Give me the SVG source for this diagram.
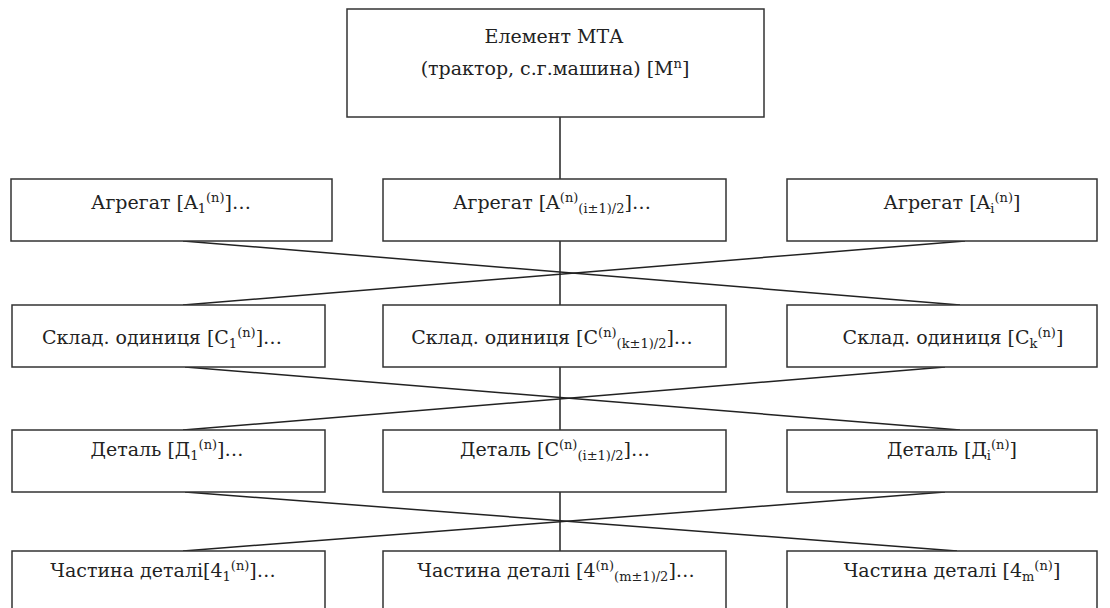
<svg xmlns="http://www.w3.org/2000/svg" width="1110" height="608" viewBox="0 0 1110 608">
<style>
rect.box{fill:#fff;stroke:#333;stroke-width:1.5}
text{font-family:'DejaVu Serif','Liberation Serif','Noto Serif','FreeSerif','Tinos','Times New Roman',serif;font-size:19px;fill:#222;text-anchor:middle}
.s{font-size:13px}
line{stroke:#222;stroke-width:1.5}
</style>
<rect width="1110" height="608" fill="#fff"/>
<g id="connectors">
<line x1="560" y1="117" x2="560" y2="179"/>
<line x1="560" y1="241" x2="560" y2="305"/>
<line x1="560" y1="367" x2="560" y2="430"/>
<line x1="560" y1="492" x2="560" y2="551"/>
<line x1="183" y1="241" x2="960" y2="305"/>
<line x1="965" y1="241" x2="183" y2="305"/>
<line x1="185" y1="367" x2="960" y2="430"/>
<line x1="945" y1="367" x2="183" y2="430"/>
<line x1="185" y1="492" x2="957" y2="551"/>
<line x1="945" y1="492" x2="183" y2="551"/>
</g>
<g id="top">
<rect class="box" x="347" y="9" width="417" height="108"/>
<text x="554" y="43">Елемент МТА</text>
<text x="555" y="75">(трактор, с.г.машина) [M<tspan class="s" dy="-7">n</tspan><tspan dy="7">]</tspan></text>
</g>
<g id="agr1">
<rect class="box" x="11" y="179" width="321" height="62"/>
<text x="171" y="209">Агрегат [A<tspan class="s" dy="4">1</tspan><tspan class="s" dy="-11">(n)</tspan><tspan dy="7">]…</tspan></text>
</g>
<g id="agr2">
<rect class="box" x="383" y="179" width="343" height="62"/>
<text x="552" y="209">Агрегат [A<tspan class="s" dy="-7">(n)</tspan><tspan class="s" dy="11">(i±1)/2</tspan><tspan dy="-4">]…</tspan></text>
</g>
<g id="agr3">
<rect class="box" x="787" y="179" width="310" height="62"/>
<text x="952" y="209">Агрегат [A<tspan class="s" dy="4">i</tspan><tspan class="s" dy="-11">(n)</tspan><tspan dy="7">]</tspan></text>
</g>
<g id="skl1">
<rect class="box" x="12" y="305" width="313" height="62"/>
<text x="162" y="344">Склад. одиниця [C<tspan class="s" dy="4">1</tspan><tspan class="s" dy="-11">(n)</tspan><tspan dy="7">]…</tspan></text>
</g>
<g id="skl2">
<rect class="box" x="383" y="305" width="343" height="62"/>
<text x="552" y="344">Склад. одиниця [C<tspan class="s" dy="-7">(n)</tspan><tspan class="s" dy="11">(k±1)/2</tspan><tspan dy="-4">]…</tspan></text>
</g>
<g id="skl3">
<rect class="box" x="787" y="305" width="310" height="62"/>
<text x="953" y="344">Склад. одиниця [C<tspan class="s" dy="4">k</tspan><tspan class="s" dy="-11">(n)</tspan><tspan dy="7">]</tspan></text>
</g>
<g id="det1">
<rect class="box" x="12" y="430" width="313" height="62"/>
<text x="167" y="456">Деталь [Д<tspan class="s" dy="4">1</tspan><tspan class="s" dy="-11">(n)</tspan><tspan dy="7">]…</tspan></text>
</g>
<g id="det2">
<rect class="box" x="383" y="430" width="343" height="62"/>
<text x="555" y="456">Деталь [C<tspan class="s" dy="-7">(n)</tspan><tspan class="s" dy="11">(i±1)/2</tspan><tspan dy="-4">]…</tspan></text>
</g>
<g id="det3">
<rect class="box" x="787" y="430" width="310" height="62"/>
<text x="952" y="456">Деталь [Д<tspan class="s" dy="4">i</tspan><tspan class="s" dy="-11">(n)</tspan><tspan dy="7">]</tspan></text>
</g>
<g id="ch1">
<rect class="box" x="12" y="551" width="313" height="64"/>
<text x="163" y="577">Частина деталі[4<tspan class="s" dy="4">1</tspan><tspan class="s" dy="-11">(n)</tspan><tspan dy="7">]…</tspan></text>
</g>
<g id="ch2">
<rect class="box" x="383" y="551" width="343" height="64"/>
<text x="556" y="577">Частина деталі [4<tspan class="s" dy="-7">(n)</tspan><tspan class="s" dy="11">(m±1)/2</tspan><tspan dy="-4">]…</tspan></text>
</g>
<g id="ch3">
<rect class="box" x="787" y="551" width="310" height="64"/>
<text x="952" y="577">Частина деталі [4<tspan class="s" dy="4">m</tspan><tspan class="s" dy="-11">(n)</tspan><tspan dy="7">]</tspan></text>
</g>
</svg>
